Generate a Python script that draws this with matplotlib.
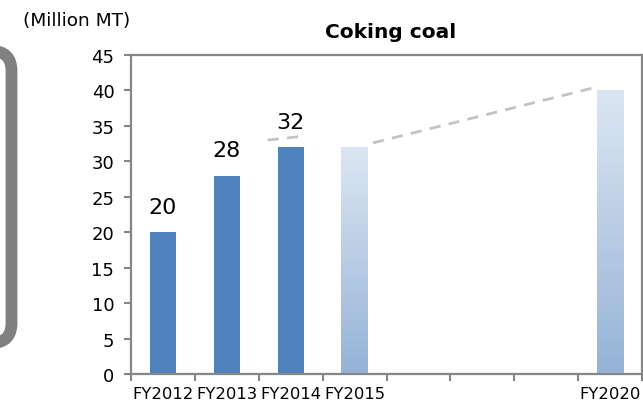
import numpy as np
import matplotlib
matplotlib.use("Agg")
import matplotlib.pyplot as plt
from matplotlib.patches import FancyBboxPatch
from matplotlib.colors import LinearSegmentedColormap
from matplotlib.transforms import IdentityTransform

# coking coal volumes (million MT), blank slots are FY2016-FY2019
categories = ["FY2012", "FY2013", "FY2014", "FY2015", "", "", "", "FY2020"]
coking_coal = [20, 28, 32, 32, None, None, None, 40]
actual_years = ["FY2012", "FY2013", "FY2014"]

# dashed trend guide (category index, value)
guide_a_x = [1.64, 2.25]
guide_a_y = [33.0, 33.6]
guide_b_x = [3.29, 6.71]
guide_b_y = [32.6, 40.3]

yticks = [0, 5, 10, 15, 20, 25, 30, 35, 40, 45]

fig = plt.figure(figsize=(6.43, 4.06), dpi=100)
ax = fig.add_axes([131 / 643, 1 - 375 / 406, 511 / 643, 319 / 406])

solid = "#4f81bd"
grad = LinearSegmentedColormap.from_list("proj", ["#95b3d7", "#dce6f2"])
bar_w = 0.41

for i, (cat, v) in enumerate(zip(categories, coking_coal)):
    if v is None:
        continue
    if cat in actual_years:
        ax.bar(i, v, width=bar_w, color=solid, zorder=2)
        ax.text(i, v + 2.2, str(v), ha="center", va="bottom", fontsize=16, zorder=4)
    else:
        b = ax.bar(i, v, width=bar_w, color="none", zorder=2)[0]
        g = np.linspace(0, 1, 256).reshape(-1, 1)
        ax.imshow(g, cmap=grad, origin="lower", aspect="auto", zorder=2,
                  extent=(b.get_x(), b.get_x() + b.get_width(), 0, v))

ax.plot(guide_a_x, guide_a_y, ls=(0, (4, 3)), color="#c3c3c3", lw=2, zorder=3)
ax.plot(guide_b_x, guide_b_y, ls=(0, (4, 3)), color="#c3c3c3", lw=2, zorder=3)

ax.set_xlim(-0.5, len(categories) - 0.5)
ax.set_ylim(0, 45)
ax.set_yticks(yticks)
ax.set_xticks(np.arange(-0.5, len(categories), 1))
ax.set_xticklabels([])
ax.set_xticks(np.arange(len(categories)), minor=True)
ax.set_xticklabels(categories, minor=True, fontsize=11.8)
ax.tick_params(axis="x", which="major", length=5, width=1.5, color="#868686")
ax.tick_params(axis="x", which="minor", length=0, pad=9)
ax.tick_params(axis="y", length=5, width=1.5, color="#868686", labelsize=13, pad=7)

for s in ax.spines.values():
    s.set_color("#868686")
    s.set_linewidth(1.6)

fig.text(391 / 643, 1 - 33 / 406, "Coking coal", ha="center", va="center",
         fontsize=14.5, fontweight="bold")
fig.text(23 / 643, 1 - 21 / 406, "(Million MT)", ha="left", va="center", fontsize=13.3)

# rounded frame peeking in from the left edge
frame = FancyBboxPatch((-60, 62), 71.5, 292, boxstyle="round,pad=0,rounding_size=20",
                       transform=IdentityTransform(), fill=False,
                       edgecolor="#808080", linewidth=8.5)
fig.patches.append(frame)

fig.savefig("out.png", dpi=100)
